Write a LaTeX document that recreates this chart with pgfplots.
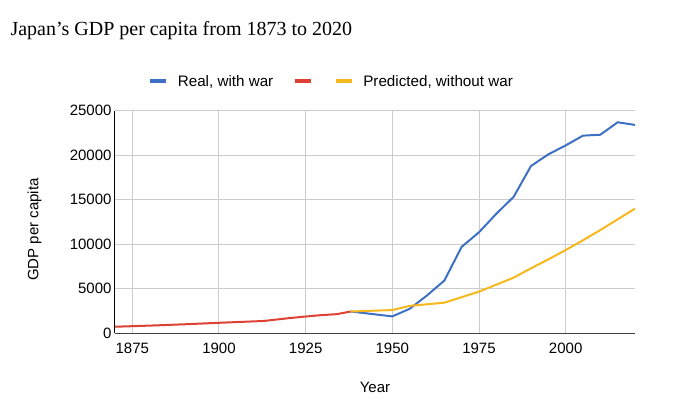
\documentclass[border=0pt]{standalone}
\usepackage{pgfplots}
\pgfplotsset{compat=1.18}
\usepackage{fontspec}
\setmainfont{Liberation Sans}
\newfontfamily\titlefont{Liberation Serif}
\definecolor{cblue}{RGB}{62,112,196}
\definecolor{cred}{RGB}{222,64,52}
\definecolor{cyellow}{RGB}{246,184,28}
\definecolor{gridgray}{RGB}{204,204,204}
\begin{document}
\begin{tikzpicture}
\useasboundingbox (-115pt,-76.7pt) rectangle (581pt,333.3pt);
\begin{axis}[
  at={(0pt,0pt)}, anchor=south west,
  scale only axis, width=520pt, height=222.6pt,
  xmin=1870, xmax=2020, ymin=0, ymax=25000,
  xtick={1875,1900,...,2000}, ytick={0,5000,...,25000},
  xmajorgrids, ymajorgrids, grid style={gridgray, line width=1pt},
  major tick length=0pt,
  axis x line*=bottom, axis y line*=left,
  x axis line style={-, line width=1.6pt, color=black!75},
  y axis line style={-, line width=1pt, color=black},
  ticklabel style={font=\fontsize{15}{18}\selectfont},
  xticklabel style={yshift=-6pt},
  /pgf/number format/assume math mode=true,
  /pgf/number format/1000 sep={},
  scaled y ticks=false,
  xlabel={Year}, ylabel={GDP per capita},
  label style={font=\fontsize{15}{18}\selectfont},
  xlabel style={at={(axis description cs:0.5,-0.243)}, anchor=center},
  ylabel style={at={(axis description cs:-0.155,0.466)}, anchor=center},
  legend style={at={(0.058,1.132)}, anchor=west, draw=none, fill=none,
    legend columns=-1, font=\fontsize{15.2}{18}\selectfont,
    nodes={inner sep=0pt},
    /tikz/every even column/.append style={column sep=20pt},
    /tikz/every odd column/.append style={column sep=0pt}},
  legend image code/.code={\draw[#1,line width=4pt] (0pt,0pt) -- (16pt,0pt);},
]
\addplot[cblue, line width=2pt] coordinates {
(1938,2449)(1950,1900)(1955,2750)(1960,4250)(1965,5920)(1970,9714)(1975,11344)
(1980,13428)(1985,15331)(1990,18789)(1995,20100)(2000,21100)(2005,22200)
(2010,22300)(2015,23700)(2020,23400)};
\addlegendentry{\hspace*{9.5pt}Real, with war}
\addplot[cred, line width=2pt] coordinates {
(1870,737)(1880,863)(1890,1012)(1900,1180)(1913,1387)(1920,1696)(1925,1885)
(1929,2026)(1934,2150)(1938,2449)};
\addlegendentry{\hspace*{-4pt}}
\addplot[cyellow, line width=2pt] coordinates {
(1938,2449)(1950,2610)(1955,3080)(1965,3440)(1975,4680)(1985,6250)(1990,7300)
(1995,8300)(2000,9350)(2005,10450)(2010,11600)(2015,12800)(2020,14000)};
\addlegendentry{\hspace*{9pt}Predicted, without war}
\end{axis}
\node[anchor=base west, font=\titlefont\fontsize{20}{24}\selectfont] at (-108pt,297.3pt) {Japan’s GDP per capita from 1873 to 2020};
\end{tikzpicture}
\end{document}
